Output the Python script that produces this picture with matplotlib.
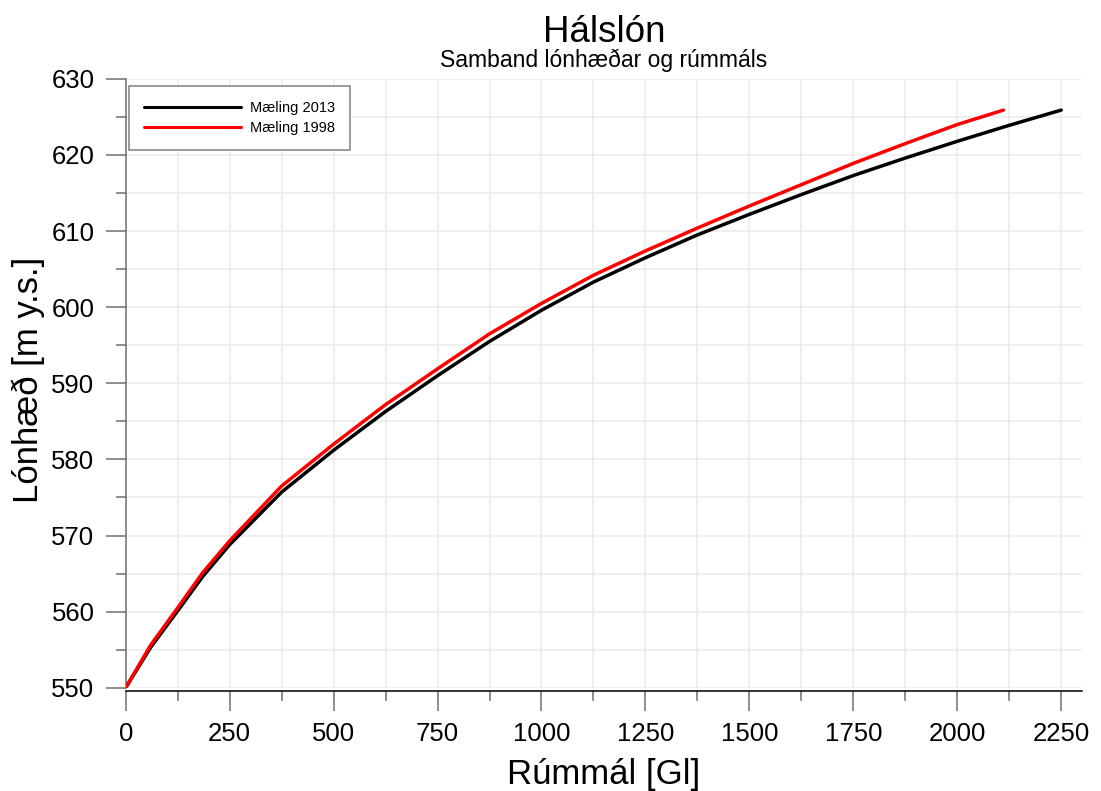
import matplotlib
matplotlib.use('Agg')
import matplotlib.pyplot as plt
from matplotlib.ticker import MultipleLocator

plt.rcParams['font.family'] = ['Liberation Sans', 'DejaVu Sans']

# Rúmmál [Gl] og lónhæð [m y.s.], lesið af myndinni
vol_2013 = [0, 60, 125, 185, 250, 375, 500, 625, 750, 875, 1000, 1125, 1250,
            1375, 1500, 1625, 1750, 1875, 2000, 2125, 2250]
lvl_2013 = [550.0, 555.3, 560.1, 564.6, 568.8, 575.7, 581.2, 586.3, 591.0, 595.5,
            599.6, 603.3, 606.5, 609.5, 612.2, 614.8, 617.3, 619.6, 621.8, 623.9, 625.9]

vol_1998 = [0, 60, 125, 185, 250, 375, 500, 625, 750, 875, 1000, 1125, 1250,
            1375, 1500, 1625, 1750, 1875, 2000, 2111]
lvl_1998 = [550.0, 555.6, 560.5, 565.1, 569.3, 576.5, 582.0, 587.2, 591.9, 596.5,
            600.5, 604.2, 607.4, 610.4, 613.3, 616.1, 618.9, 621.5, 624.0, 625.9]

W, H = 1101, 791
fig = plt.figure(figsize=(W / 100, H / 100), dpi=100)
ax = fig.add_axes([125.7 / W, 1 - 687.7 / H, (1082 - 125.7) / W, (687.7 - 78.9) / H])

ax.plot(vol_2013, lvl_2013, color='black', lw=2.5, label='Mæling 2013',
        solid_capstyle='round', solid_joinstyle='round', zorder=3)
ax.plot(vol_1998, lvl_1998, color='red', lw=2.5, label='Mæling 1998',
        solid_capstyle='round', solid_joinstyle='round', zorder=4)

ax.set_xlim(0, 2300)
ax.set_ylim(550, 630)
ax.xaxis.set_major_locator(MultipleLocator(250))
ax.xaxis.set_minor_locator(MultipleLocator(125))
ax.yaxis.set_major_locator(MultipleLocator(10))
ax.yaxis.set_minor_locator(MultipleLocator(5))

ax.grid(True, which='both', color='#ebebeb', lw=1.1, zorder=0)
ax.set_axisbelow(True)

for s in ['top', 'right']:
    ax.spines[s].set_visible(False)
ax.spines['left'].set_color('#707070')
ax.spines['left'].set_linewidth(1.1)
ax.spines['bottom'].set_color('black')
ax.spines['bottom'].set_linewidth(1.1)
ax.spines['bottom'].set_position(('outward', 2.2))

ax.tick_params(axis='both', which='major', direction='out', length=14.5, width=1.1,
               color='#707070', labelsize=18.5, pad=8)
ax.tick_params(axis='both', which='minor', direction='out', length=7.2, width=1.1,
               color='#707070')

leg = ax.legend(loc='upper left', bbox_to_anchor=(0.0035, 0.988), borderaxespad=0,
                fontsize=10.5, handlelength=6.7, handletextpad=0.6, labelspacing=0.45,
                borderpad=1.0, fancybox=False, framealpha=1, edgecolor='#808080')
leg.get_frame().set_linewidth(1.1)
for line in leg.get_lines():
    line.set_linewidth(2.2)

fig.text(604 / W, 1 - 42 / H, 'Hálslón', ha='center', va='baseline', fontsize=26.5)
fig.text(604 / W, 1 - 67 / H, 'Samband lónhæðar og rúmmáls', ha='center', va='baseline', fontsize=16.5)
fig.text(604 / W, 1 - 784 / H, 'Rúmmál [Gl]', ha='center', va='baseline', fontsize=25)
fig.text(28 / W, 1 - 380 / H, 'Lónhæð [m y.s.]', ha='center', va='center', rotation=90, fontsize=25)

fig.savefig('out.png', dpi=100)
